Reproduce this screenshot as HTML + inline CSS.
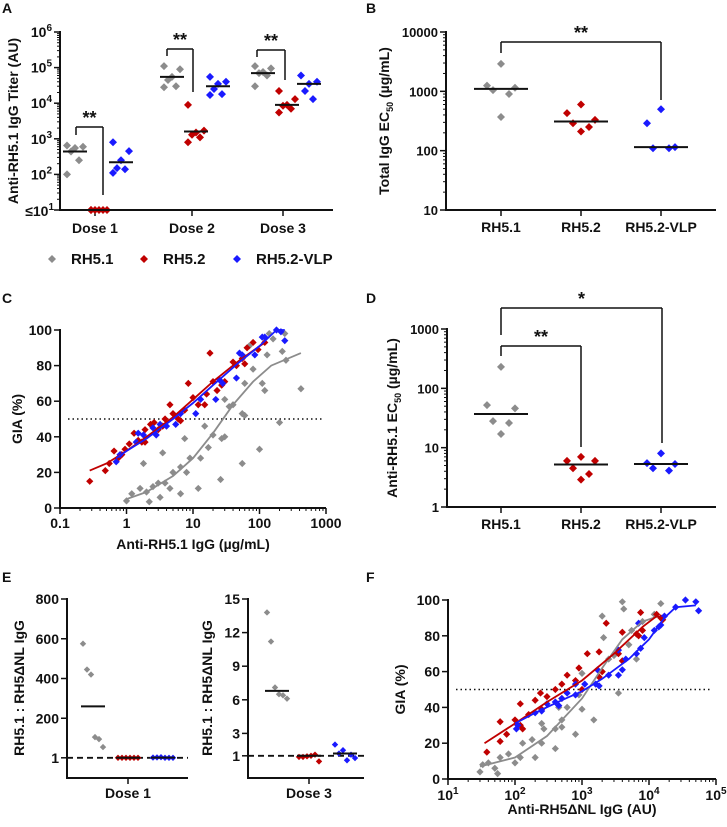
<!DOCTYPE html>
<html><head><meta charset="utf-8">
<style>
html,body{margin:0;padding:0;background:#fff;}
svg{display:block;font-family:"Liberation Sans",Arial,sans-serif;font-weight:bold;}
</style></head>
<body>
<svg id="fig" width="727" height="827" viewBox="0 0 727 827"></svg>
<script>
// ---------- DATA ----------
var doseLabels=["Dose 1","Dose 2","Dose 3"];
var groupNames=["RH5.1","RH5.2","RH5.2-VLP"];
var aGray=[[650,600,550,440,250,100],[110000,90000,55000,45000,30000,28000],[110000,95000,75000,70000,60000,30000]];
var aRed=[[10,10,10,10,10,10],[9000,1700,1500,1300,1100,800],[22000,13000,9000,8500,7000,5500]];
var aBlue=[[800,450,250,150,140,110],[55000,40000,35000,25000,18000,17000],[60000,40000,35000,22000,13000]];
var aMedGray=[440,55000,70000],aMedRed=[10,1600,9000],aMedBlue=[220,30000,35000];
var bGray=[2900,1250,1150,1050,900,370],bRed=[600,430,330,290,250,210],bBlue=[500,290,115,110,110];
var bMed=[1100,310,115];
var dGray=[230,52,46,28,26,17],dRed=[7,6,6,4.5,3.6,2.9],dBlue=[8,5.5,5.3,4.5,4.1];
var dMed=[37,5.2,5.3];
var cRedX=[0.28,0.48,0.55,0.65,0.75,0.85,0.95,1.1,1.3,1.5,1.7,1.9,1.9,2.3,2.6,3,3.5,3.8,4.5,5,6,6.5,7.5,8.5,10,12,15,16,18,20,23,27,30,40,45,55,60,65,80,95,120];
var cRedY=[15,21,25,32,28,30,33,36,42,38,37,44,37,47,48,44,46,50,58,53,50,49,55,70,62,58,58,64,87,71,66,69,71,82,80,84,81,90,93,89,93];
var cBlueX=[0.7,0.8,1.4,1.5,1.8,2.5,2.8,3.2,4,5.5,6.5,11,13,22,25,28,45,50,55,85,110,120,180,210,240];
var cBlueY=[26,30,37,42,41,45,41,47,46,47,53,53,61,61,72,70,73,87,86,86,96,96,100,99,94];
var cGrayX=[1,1.2,1.6,1.8,2,2.2,2.5,3,3.2,3.5,3.8,4.5,5,6.5,6.5,7.5,8,9,12,13,15,17,20,26,27,30,30,35,40,55,55,60,60,70,80,100,110,120,130,140,160,200,220,240,250,420];
var cGrayY=[4,8,11,25,9,3.5,12,14,6,31,14,11,20,8,23,39,20,28,11,28,46,34,41,16,39,40,61,57,58,25,53,52,70,91,78,33,70,66,86,98,95,48,88,98,83,67];
var cRedCurveX=[0.28,0.5,1,2,5,10,20,50,120],cRedCurveY=[21,25,32,40,51,61,71,83,93];
var cBlueCurveX=[0.7,1,2,5,10,20,50,100,180,240],cBlueCurveY=[28,32,39,50,59,69,82,91,100,100];
var cGrayCurveX=[1,2,5,10,20,40,80,150,420],cGrayCurveY=[5,9,18,28,42,58,71,80,87];
var fRedX=[38,60,60,75,100,120,120,130,160,200,240,250,300,400,500,500,600,800,900,1000,1200,1800,1800,2000,2300,3500,4000,4000,6500,7000,7500,8000,13000,15000,16000];
var fRedY=[15,32,21,25,33,42,30,28,36,44,48,39,46,50,53,45,58,55,62,50,70,71,57,60,87,70,82,66,81,80,93,83,92,90,89];
var fBlueX=[105,110,200,250,300,400,450,500,600,800,800,1100,1600,1700,1800,2500,3500,3500,4000,4500,6500,7000,7500,8500,12000,14000,15000,17000,25000,35000,50000,55000];
var fBlueY=[28,30,37,38,42,43,41,45,48,47,53,53,53,61,52,58,58,72,61,67,70,87,73,79,83,85,86,91,96,100,99,94];
var fGrayX=[30,33,40,50,55,60,80,100,120,130,180,200,250,250,270,400,400,450,500,500,600,800,900,1000,1000,1500,2000,2100,2000,2500,3000,3500,4000,4200,5000,5500,6500,8000,12000,15000];
var fGrayY=[4,8,9,6,3,12,14,9,12,20,22,12,20,31,28,17,28,40,33,29,40,25,47,39,59,33,91,79,60,67,69,48,99,95,75,83,67,88,92,98];
var fRedCurveX=[35,100,300,1000,3000,8000,13000,16000],fRedCurveY=[20,31,43,55,70,85,91,90];
var fBlueCurveX=[100,200,500,1000,2000,5000,10000,17000,25000,50000],fBlueCurveY=[31,37,44,49,56,67,78,90,96,97];
var fGrayCurveX=[30,100,300,1000,2000,4000,8000,14000],fGrayCurveY=[7,12,24,45,62,78,88,91];
var e1Gray=[575,445,420,105,95,55],e1Red=[1,1,1,1,1,1],e1Blue=[2,3,4,1,1,1];
var e1Med=[260,1,2];
var e3Gray=[13.8,11.2,7.1,6.5,6.4,6.1],e3Red=[0.9,0.9,0.95,1.0,1.1,0.5],e3Blue=[2.0,1.2,1.5,0.6,1.1,0.8];
var e3Med=[6.8,1.0,1.2];

// ---------- HELPERS ----------
var NS="http://www.w3.org/2000/svg",svg=document.getElementById("fig");
var GRAY="#8c8c8c",RED="#c00000",BLUE="#1a1aff";
function mk(tag,at,name,parent,inter){var el=document.createElementNS(NS,tag);for(var k in at)el.setAttribute(k,at[k]);


(parent||svg).appendChild(el);return el;}
function txt(x,y,s,name,opt){opt=opt||{};var t=mk("text",{x:x,y:y,"font-size":opt.fs||14,"text-anchor":opt.anchor||"middle",fill:"#111"},name);
if(opt.rot)t.setAttribute("transform","rotate(-90 "+x+" "+y+")");t.textContent=s;return t;}
function line(x1,y1,x2,y2,name,w,dash){var l=mk("line",{x1:x1,y1:y1,x2:x2,y2:y2,stroke:"#111","stroke-width":w||2},name);if(dash)l.setAttribute("stroke-dasharray",dash);return l;}
function dia(x,y,c,name,r){r=r||4;return mk("path",{d:"M"+x+" "+(y-r)+"L"+(x+r)+" "+y+"L"+x+" "+(y+r)+"L"+(x-r)+" "+y+"Z",fill:c},name);}
function logS(a,b,p0,p1){var la=Math.log10(a),lb=Math.log10(b);return function(v){return p0+(Math.log10(v)-la)/(lb-la)*(p1-p0);};}
function linS(a,b,p0,p1){return function(v){return p0+(v-a)/(b-a)*(p1-p0);};}
function pw(x,y,base,exp,name,anchor){var t=mk("text",{x:x,y:y,"font-size":14,"text-anchor":anchor||"end",fill:"#111"},name);
t.appendChild(document.createTextNode(base));var s=document.createElementNS(NS,"tspan");s.setAttribute("dy","-6");s.setAttribute("font-size","10");s.textContent=exp;t.appendChild(s);return t;}
function label(x,y,s){txt(x,y,s,"panel-label-"+s.toLowerCase(),{fs:14,anchor:"start"});}
function poly(xs,ys,sx,sy,c,name){var d="";for(var i=0;i<xs.length;i++)d+=(i?"L":"M")+sx(xs[i]).toFixed(1)+" "+sy(ys[i]).toFixed(1);
return mk("path",{d:d,fill:"none",stroke:c,"stroke-width":1.8},name);}
function bracket(x1,x2,y,y1,y2,stars,name){line(x1,y1,x1,y,name+"-left",1.5);line(x1,y,x2,y,name+"-top",1.5);line(x2,y,x2,y2,name+"-right",1.5);txt((x1+x2)/2,y-3,stars,name+"-stars",{fs:18});}

// ---------- PANEL A ----------
label(2,13,"A");
(function(){
 var x0=60,x1=333,yT=32,yB=210,sy=logS(10,1e6,yB,yT);
 var centers=[95,192,283],off=[-20,4,26];
 line(x0,yT-1,x0,yB+1,"a-y-axis");line(x0-1,yB,x1,yB,"a-x-axis");
 for(var e=1;e<=6;e++){var y=sy(Math.pow(10,e));line(x0-6,y,x0,y,"a-y-tick",1.5);
  for(var m=2;m<10&&e<6;m++){var ym=sy(m*Math.pow(10,e));line(x0-3,ym,x0,ym,"a-y-minor-tick",1);}
  if(e>1)pw(x0-8,y+5,"10",e,"a-y-tick-label");}
 var lt=mk("text",{x:x0-6,y:yB+6,"font-size":14,"text-anchor":"end",fill:"#111"},"a-y-tick-label-min");lt.textContent="≤10";
 var sp=document.createElementNS(NS,"tspan");sp.setAttribute("dy","-6");sp.setAttribute("font-size","10");sp.textContent="1";lt.appendChild(sp);
 txt(18,121,"Anti-RH5.1 IgG Titer (AU)","a-y-axis-title",{rot:1,fs:14});
 var sets=[aGray,aRed,aBlue],meds=[aMedGray,aMedRed,aMedBlue],cols=[GRAY,RED,BLUE];
 for(var d=0;d<3;d++){line(centers[d],yB,centers[d],yB+6,"a-x-tick",1.5);txt(centers[d],233,doseLabels[d],"a-x-tick-label");
  for(var g=0;g<3;g++){var cx=centers[d]+off[g],vals=sets[g][d];
   for(var i=0;i<vals.length;i++){var jit=[-8,8,0,-4,4,-8][i];dia(cx+jit,sy(vals[i]),cols[g],"a-point");}
   line(cx-12,sy(meds[g][d]),cx+12,sy(meds[g][d]),"a-median",2);}}
 bracket(76,103,127,135,195,"**","a-sig-dose1");
 bracket(167,193,49,56,92,"**","a-sig-dose2");
 bracket(257,285,50,57,80,"**","a-sig-dose3");
 var lx=[52,144,237];for(var g=0;g<3;g++){dia(lx[g],259,cols[g],"legend-marker-"+g);txt(lx[g]+19,264,groupNames[g],"legend-entry",{anchor:"start",fs:15});}
})();

// ---------- CATEGORY PANEL (B & D) ----------
function catPanel(pre,x0,x1,yT,yB,lo,hi,ticks,title,gray,red,blue,med,titleX){
 var sy=logS(lo,hi,yB,yT),cx=[501,581,661],cols=[GRAY,RED,BLUE],sets=[gray,red,blue];
 line(x0,yT-1,x0,yB+1,pre+"-y-axis");line(x0-1,yB,x1,yB,pre+"-x-axis");
 for(var i=0;i<ticks.length;i++){var y=sy(ticks[i]);line(x0-6,y,x0,y,pre+"-y-tick",1.5);txt(x0-8,y+5,String(ticks[i]),pre+"-y-tick-label",{anchor:"end",fs:13});
  for(var m=2;m<10&&i<ticks.length-1;m++){var ym=sy(m*ticks[i]);line(x0-3,ym,x0,ym,pre+"-y-minor-tick",1);}}
 for(var g=0;g<3;g++){line(cx[g],yB,cx[g],yB+6,pre+"-x-tick",1.5);txt(cx[g],yB+22,groupNames[g],pre+"-x-tick-label");
  var v=sets[g];for(var i=0;i<v.length;i++){var j=[0,-14,14,-8,8,0][i%6];dia(cx[g]+j,sy(v[i]),cols[g],pre+"-point");}
  line(cx[g]-27,sy(med[g]),cx[g]+27,sy(med[g]),pre+"-median",2);}
 var t=mk("text",{x:titleX,y:(yT+yB)/2,"font-size":14,"text-anchor":"middle",fill:"#111",transform:"rotate(-90 "+titleX+" "+((yT+yB)/2)+")"},pre+"-y-axis-title");
 t.appendChild(document.createTextNode(title[0]));var s=document.createElementNS(NS,"tspan");s.setAttribute("dy","4");s.setAttribute("font-size","9");s.textContent="50";t.appendChild(s);
 var s2=document.createElementNS(NS,"tspan");s2.setAttribute("dy","-4");s2.textContent=" (µg/mL)";t.appendChild(s2);
}
label(366,13,"B");
catPanel("b",446,716,32,210,10,10000,[10,100,1000,10000],["Total IgG EC"],bGray,bRed,bBlue,bMed,389);
bracket(501,661,42,53,100,"**","b-sig");
label(366,303,"D");
catPanel("d",447,716,329,507,1,1000,[1,10,100,1000],["Anti-RH5.1 EC"],dGray,dRed,dBlue,dMed,397);
bracket(501,581,346,356,447,"**","d-sig-rh52");
bracket(501,662,308,335,443,"*","d-sig-vlp");

// ---------- GIA PANELS (C & F) ----------
function giaPanel(pre,x0,x1,yT,yB,lo,hi,sets,curves,xtitle,xtitleY,ytitleX,powLabels){
 var sx=logS(lo,hi,x0,x1),sy=linS(0,100,yB,yT),cols=[GRAY,RED,BLUE];
 line(x0,yT-1,x0,yB+1,pre+"-y-axis");line(x0-1,yB,x1,yB,pre+"-x-axis");
 for(var v=0;v<=100;v+=20){var y=sy(v);line(x0-6,y,x0,y,pre+"-y-tick",1.5);txt(x0-8,y+5,String(v),pre+"-y-tick-label",{anchor:"end"});}
 for(var d=lo;d<=hi;d*=10){var x=sx(d);line(x,yB,x,yB+6,pre+"-x-tick",1.5);
  var e=Math.round(Math.log10(d));
  if(powLabels)pw(x,yB+21,"10",e,pre+"-x-tick-label","middle");else txt(x,yB+20,String(d),pre+"-x-tick-label");
  for(var m=2;m<10&&d<hi;m++){var xm=sx(m*d);line(xm,yB,xm,yB+3,pre+"-x-minor-tick",1);}}
 line(sx(lo)+8,sy(50),x1-4,sy(50),pre+"-threshold-50",1.5,"1.5,3");
 for(var g=0;g<3;g++){var s=sets[g];for(var i=0;i<s[0].length;i++)dia(sx(s[0][i]),sy(s[1][i]),cols[g],pre+"-point",3.6);}
 for(var g=0;g<3;g++)poly(curves[g][0],curves[g][1],sx,sy,cols[g],pre+"-fit-curve");
 txt((x0+x1)/2,xtitleY,xtitle,pre+"-x-axis-title",{fs:14});
 txt(ytitleX,(yT+yB)/2,"GIA (%)",pre+"-y-axis-title",{rot:1,fs:14});
}
label(2,303,"C");
giaPanel("c",60,326,330,508,0.1,1000,[[cGrayX,cGrayY],[cRedX,cRedY],[cBlueX,cBlueY]],
 [[cGrayCurveX,cGrayCurveY],[cRedCurveX,cRedCurveY],[cBlueCurveX,cBlueCurveY]],"Anti-RH5.1 IgG (µg/mL)",549,22,false);
label(366,582,"F");
giaPanel("f",448,716,600,779,10,100000,[[fGrayX,fGrayY],[fRedX,fRedY],[fBlueX,fBlueY]],
 [[fGrayCurveX,fGrayCurveY],[fRedCurveX,fRedCurveY],[fBlueCurveX,fBlueCurveY]],"Anti-RH5ΔNL IgG (AU)",814,405,true);

// ---------- PANEL E ----------
label(2,582,"E");
function ePanel(pre,x0,x1,yB,sy,ticks,tickLabels,cx,off,gray,red,blue,med,dose,titleX){
 var cols=[GRAY,RED,BLUE],sets=[gray,red,blue];
 line(x0,598,x0,yB+1,pre+"-y-axis");line(x0-1,yB,x1,yB,pre+"-x-axis");
 for(var i=0;i<ticks.length;i++){var y=sy(ticks[i]);line(x0-6,y,x0,y,pre+"-y-tick",1.5);txt(x0-8,y+5,tickLabels[i],pre+"-y-tick-label",{anchor:"end"});}
 line(cx,yB,cx,yB+6,pre+"-x-tick",1.5);txt(cx,yB+20,dose,pre+"-x-tick-label");
 line(x0,sy(1),x1,sy(1),pre+"-reference-1",1.8,"6,4");
 for(var g=0;g<3;g++){var gx=cx+off[g],v=sets[g];
  for(var i=0;i<v.length;i++){var j=[-8,-4,0,4,8,12][i]-2;dia(gx+j,sy(v[i]),cols[g],pre+"-point",3.2);}
  line(gx-12,sy(med[g]),gx+12,sy(med[g]),pre+"-median",2);}
 txt(titleX,688,"RH5.1 : RH5ΔNL IgG",pre+"-y-axis-title",{rot:1,fs:14});
}
ePanel("e-dose1",67,188,778,linS(0,800,758,599),[1,200,400,600,800],["1","200","400","600","800"],128,[-35,0,35],e1Gray,e1Red,e1Blue,e1Med,"Dose 1",24);
ePanel("e-dose3",248,364,778,linS(0,15,767,599),[1,3,6,9,12,15],["1","3","6","9","12","15"],309,[-32,0,36],e3Gray,e3Red,e3Blue,e3Med,"Dose 3",212);
</script>
</body></html>
